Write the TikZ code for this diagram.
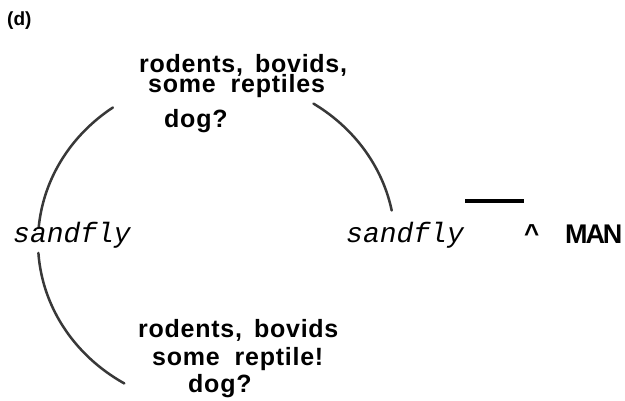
\documentclass[tikz,border=0pt]{standalone}
\usepackage{fontspec}
\setmainfont{Liberation Sans}
\newfontfamily\labelfont[LetterSpace=3]{Liberation Sans}
\newfontfamily\flyfont{Liberation Mono}
\newfontfamily\manfont[LetterSpace=-8]{Liberation Sans}
\definecolor{arcgray}{HTML}{383838}
\tikzset{
  host/.style={anchor=base west, inner sep=0pt,
    font=\labelfont\bfseries\fontsize{25}{25}\selectfont},
  hostpair/.style={host, align=left},
  vector/.style={anchor=base west, inner sep=0pt,
    font=\flyfont\itshape\fontsize{28}{28}\selectfont},
  cyclearc/.style={draw=arcgray, line width=2.5pt, line cap=round},
}
\begin{document}
\begin{tikzpicture}[x=1pt, y=-1pt]
  \useasboundingbox (0,0) rectangle (625,400);
  \fill[white] (0,0) rectangle (625,400);

  % panel letter
  \node[anchor=base west, inner sep=0pt,
        font=\bfseries\fontsize{19}{19}\selectfont] (panel) at (7,25) {(d)};

  % transmission cycle: three arcs of one ellipse
  \draw[cyclearc] plot[domain=125.4:175, samples=60]
    ({216+178*cos(\x)},{242-165*sin(\x)});
  \draw[cyclearc] plot[domain=183.8:239, samples=60]
    ({216+178*cos(\x)},{242-165*sin(\x)});
  \draw[cyclearc] plot[domain=57:11, samples=60]
    ({216+179*cos(\x)},{242-165*sin(\x)});

  % reservoir hosts, upper (anchored on the last line's baseline)
  \node[hostpair] (upA) at (139,92.5)
    {rodents,\hspace{12pt}bovids,\\[-4.5pt]\hspace*{9pt}some\hspace{15pt}reptiles};
  \node[host] (upC) at (164,127) {dog?};

  % reservoir hosts, lower
  \node[hostpair] (loA) at (138,365)
    {rodents,\hspace{12pt}bovids\\[3pt]\hspace*{14pt}some\hspace{15pt}reptile!};
  \node[host] (loC) at (188,392) {dog?};

  % vectors
  \node[vector] (flyL) at (13,242) {sandfly};
  \node[vector] (flyR) at (346,242) {sandfly};

  % spill-over to man
  \coordinate (barL) at (465,201);
  \coordinate (barR) at (524,201);
  \draw[line width=3.5pt] (barL) -- (barR);
  \node[anchor=base west, inner sep=0pt,
        font=\bfseries\fontsize{26}{26}\selectfont] (caret) at (524,242) {\^{}};
  \node[anchor=base west, inner sep=0pt,
        font=\manfont\bfseries\fontsize{27}{27}\selectfont] (man) at (565,243) {MAN};
\end{tikzpicture}
\end{document}
